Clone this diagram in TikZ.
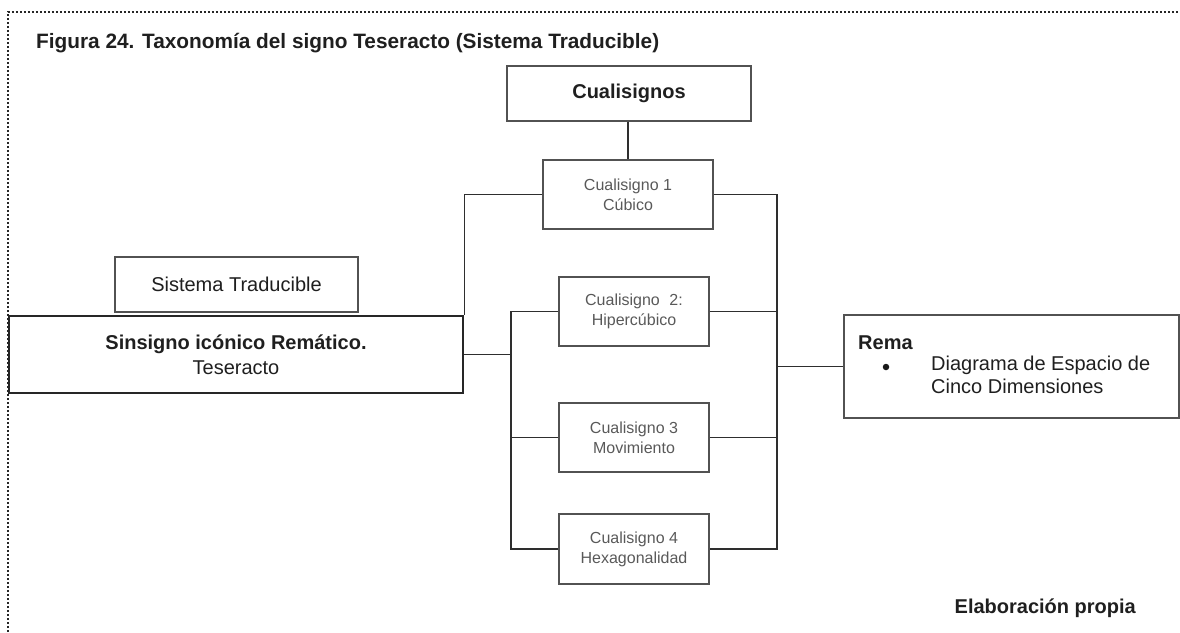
\documentclass[tikz,border=0pt]{standalone}
\usepackage{fontspec}
\setmainfont{Liberation Sans}
\begin{document}
\begin{tikzpicture}[x=1pt,y=-1pt,
  boxline/.style={draw=black!68,line width=1.4pt},
  link/.style={draw=black!82,line width=1.5pt},
  bigbox/.style={boxline,inner sep=0pt,align=center,text=black!88,
    font=\fontsize{20}{25}\selectfont},
  smallbox/.style={boxline,inner sep=0pt,align=center,text=black!65,
    minimum width=150pt,minimum height=69pt,
    font=\fontsize{16}{20}\selectfont},
  plain/.style={inner sep=0pt,text=black!88,font=\fontsize{20}{23}\selectfont}]
\useasboundingbox (0,0) rectangle (1180,632);
% frame of the figure
\draw[black!85,line width=1.6pt,dash pattern=on 1.6pt off 2.4pt] (8,632) -- (8,12) -- (1180,12);
\node[plain,anchor=west,font=\fontsize{20.8}{24}\selectfont] (title) at (36,43) {\bfseries Figura 24. Taxonomía del signo Teseracto (Sistema Traducible)};

% boxes
\node[bigbox,minimum width=244pt,minimum height=55pt] (cuals) at (629,93.5) {\bfseries Cualisignos};
\node[smallbox,minimum width=170pt] (c1) at (628,194.5) {Cualisigno 1\\Cúbico};
\node[smallbox] (c2) at (634,311.5) {Cualisigno\hspace{0.6em}2:\\Hipercúbico};
\node[smallbox] (c3) at (634,437.5) {Cualisigno 3\\Movimiento};
\node[smallbox,minimum height=70pt] (c4) at (634,549) {Cualisigno 4\\Hexagonalidad};
\node[bigbox,minimum width=243pt,minimum height=55pt] (sist) at (236.5,284.5) {Sistema Traducible};
\node[bigbox,draw=black!85,line width=2.6pt,minimum width=454pt,minimum height=77pt] (sins) at (236,354.5) {\bfseries Sinsigno icónico Remático.\\Teseracto};
\node[bigbox,minimum width=335pt,minimum height=103pt] (rema) at (1011.5,366.5) {};
\node[plain,anchor=west] (rematitle) at (858,343) {\bfseries Rema};
\node[circle,fill=black!90,inner sep=0pt,minimum size=6.5pt] (bullet) at (886,367) {};
\node[plain,anchor=north west,align=left] (rematext) at (931,356) {Diagrama de Espacio de\\Cinco Dimensiones};
\node[plain,anchor=east] (elab) at (1136,608) {\bfseries Elaboración propia};

% bracket corners
\coordinate (rb) at (777,549);
\coordinate (lb) at (511,549);

% connectors
\draw[link] (cuals.south -| c1.north) -- (c1.north);
\draw[link] (c1.west) -| (sins.north east);
\draw[link] (c1.east) -| (rb) -- (c4.east);
\draw[link] (c2.east) -- (c2.east -| rb);
\draw[link] (c3.east) -- (c3.east -| rb);
\draw[link] (rema.west) -- (rema.west -| rb);
\draw[link] (c2.west) -| (lb) -- (c4.west);
\draw[link] (c3.west) -- (c3.west -| lb);
\draw[link] (sins.east) -- (sins.east -| lb);
\end{tikzpicture}
\end{document}
